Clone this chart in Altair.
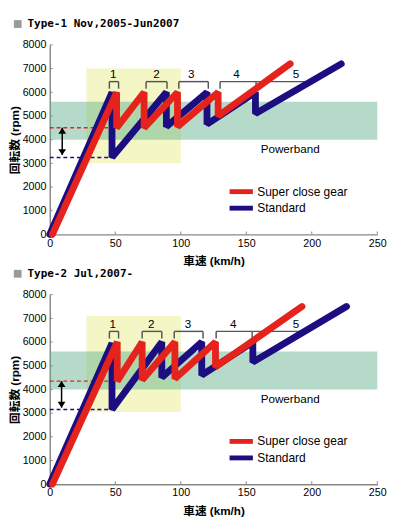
import altair as alt
import pandas as pd

# ---------------- data ----------------
SERIES = ["Super close gear", "Standard"]
SERIES_COLORS = ["#e5221c", "#1c0d80"]
X_TICKS = [0, 50, 100, 150, 200, 250]
Y_TICKS = [0, 1000, 2000, 3000, 4000, 5000, 6000, 7000, 8000]
GEAR_LABELS = ["1", "2", "3", "4", "5"]
BAND_TEXT = "Powerband"

# Type-1
t1_title = "Type-1 Nov,2005-Jun2007"
t1_std_speed = [0, 47.5, 47.5, 89, 89, 120, 120, 157, 157, 222.5]
t1_std_rpm = [0, 6000, 3250, 6000, 4550, 6000, 4650, 6000, 5100, 7200]
t1_sc_speed = [2, 51, 51, 72, 72, 97.5, 97.5, 128.5, 128.5, 183.5]
t1_sc_rpm = [0, 6000, 4500, 6000, 4500, 6000, 4550, 6000, 5000, 7200]
t1_zone_speed = [28, 100]
t1_zone_rpm = [3000, 7000]
t1_band_speed = [0, 250]
t1_band_rpm = [4000, 5600]
t1_br_from = [45.5, 73.5, 98.5, 130, 157.5]
t1_br_to = [52.5, 89.5, 121, 157.5, 199]
t1_br_label_speed = [48.5, 81.5, 108, 142.5, 188]
t1_br_rpm = [6450, 6150]
t1_label_rpm = 6750
t1_drop_sc = [51, 4500]
t1_drop_std = [47.5, 3250]
t1_arrow = [9.5, 4500, 3350]
t1_band_label = [183.5, 3600]

# Type-2
t2_title = "Type-2 Jul,2007-"
t2_std_speed = [0, 47.5, 47.5, 85.5, 85.5, 116, 116, 155, 155, 226.5]
t2_std_rpm = [0, 5950, 3150, 6000, 4500, 6000, 4600, 6000, 5150, 7500]
t2_sc_speed = [2, 51.5, 51.5, 70.5, 70.5, 95.5, 95.5, 126.5, 126.5, 192.5]
t2_sc_rpm = [0, 6000, 4350, 6000, 4400, 6000, 4450, 6000, 4950, 7500]
t2_zone_speed = [28, 100]
t2_zone_rpm = [3050, 7100]
t2_band_speed = [0, 250]
t2_band_rpm = [4000, 5600]
t2_br_from = [45.5, 70.5, 95, 127, 154.5]
t2_br_to = [52.5, 85.5, 117, 154.5, 196]
t2_br_label_speed = [48, 77.5, 105.5, 140, 188]
t2_br_rpm = [6450, 6150]
t2_label_rpm = 6750
t2_drop_sc = [51.5, 4350]
t2_drop_std = [47.5, 3150]
t2_arrow = [9, 4350, 3230]
t2_band_label = [183.5, 3600]

# ---------------- styling ----------------
W, H = 337, 195
LFONT = "Liberation Sans, Arial, Noto Sans CJK JP"
TFONT = "Liberation Sans, Noto Sans CJK JP"
RED, BLUE = SERIES_COLORS


def panel(title, std_speed, std_rpm, sc_speed, sc_rpm, zone_speed, zone_rpm,
          band_speed, band_rpm, br_from, br_to, br_label_speed, br_rpm, label_rpm,
          drop_sc, drop_std, arrow, band_label):
    xs = alt.Scale(domain=[0, 250], nice=False, zero=False)
    ys = alt.Scale(domain=[0, 8000], nice=False)
    ax = alt.Axis(values=X_TICKS, format="d", title="車速 (km/h)", grid=False, ticks=False,
                  tickSize=0, domainColor="#888888", domainWidth=1.5, labelFont=LFONT,
                  labelFontSize=11, labelColor="black", labelPadding=3, labelFlush=False,
                  titleFont=TFONT, titleFontWeight="bold", titleFontSize=12,
                  titleColor="black", titlePadding=8)
    ay = alt.Axis(values=Y_TICKS, format="d", title="回転数 (rpm)", grid=False, ticks=False,
                  tickSize=0, domainColor="#888888", domainWidth=1.5, labelFont=LFONT,
                  labelFontSize=11, labelColor="black", labelPadding=4, labelFlush=False,
                  titleFont=TFONT, titleFontWeight="bold", titleFontSize=12,
                  titleColor="black", titlePadding=1)

    def X(f):
        return alt.X(f, type="quantitative", scale=xs, axis=ax)

    def Y(f):
        return alt.Y(f, type="quantitative", scale=ys, axis=ay)

    zone = alt.Chart(pd.DataFrame({"x": [zone_speed[0]], "x2": [zone_speed[1]],
                                   "y": [zone_rpm[0]], "y2": [zone_rpm[1]]})).mark_rect(
        color="#f4f6c6").encode(x=X("x"), x2="x2", y=Y("y"), y2="y2")
    band = alt.Chart(pd.DataFrame({"x": [band_speed[0]], "x2": [band_speed[1]],
                                   "y": [band_rpm[0]], "y2": [band_rpm[1]]})).mark_rect(
        color="#5aae8a", opacity=0.45).encode(x=X("x"), x2="x2", y=Y("y"), y2="y2")

    segs = []
    n = len(br_from)
    for i in range(n):
        segs.append(dict(x=br_from[i], x2=br_to[i], y=br_rpm[0], y2=br_rpm[0]))
        if i < n - 1:
            segs.append(dict(x=br_from[i], x2=br_from[i], y=br_rpm[1], y2=br_rpm[0]))
            segs.append(dict(x=br_to[i], x2=br_to[i], y=br_rpm[1], y2=br_rpm[0]))
    brackets = alt.Chart(pd.DataFrame(segs)).mark_rule(color="#555555", strokeWidth=1.5).encode(
        x=X("x"), x2="x2", y=Y("y"), y2="y2")
    blabels = alt.Chart(pd.DataFrame({"x": br_label_speed, "y": [label_rpm] * n,
                                      "t": GEAR_LABELS})).mark_text(
        font=LFONT, fontSize=12, color="black", baseline="middle").encode(
        x=X("x"), y=Y("y"), text="t:N")
    bandtxt = alt.Chart(pd.DataFrame({"x": [band_label[0]], "y": [band_label[1]],
                                      "t": [BAND_TEXT]})).mark_text(
        font=LFONT, fontSize=12, color="black", baseline="middle").encode(
        x=X("x"), y=Y("y"), text="t:N")

    dash_sc = alt.Chart(pd.DataFrame({"x": [0], "x2": [drop_sc[0]], "y": [drop_sc[1]]})).mark_rule(
        color=RED, strokeDash=[4, 3], strokeWidth=1.5).encode(x=X("x"), x2="x2", y=Y("y"))
    dash_std = alt.Chart(pd.DataFrame({"x": [0], "x2": [drop_std[0]], "y": [drop_std[1]]})).mark_rule(
        color=BLUE, strokeDash=[4, 3], strokeWidth=1.5).encode(x=X("x"), x2="x2", y=Y("y"))

    adf = pd.DataFrame({"x": [arrow[0]], "y": [arrow[1]], "y2": [arrow[2]]})
    ashaft = alt.Chart(adf).mark_rule(color="black", strokeWidth=1.5).encode(
        x=X("x"), y=Y("y"), y2="y2")
    ahead_up = alt.Chart(adf).mark_point(shape="M0,0L-1,1.5L1,1.5Z", filled=True, size=64,
                                         color="black", opacity=1).encode(x=X("x"), y=Y("y"))
    ahead_dn = alt.Chart(adf).mark_point(shape="M0,0L-1,-1.5L1,-1.5Z", filled=True, size=64,
                                         color="black", opacity=1).encode(x=X("x"), y=Y("y2"))

    leg = alt.Legend(title=None, orient="none", legendX=190.5, legendY=144.5,
                     symbolType="M-3,0H3", symbolSize=64, symbolStrokeWidth=5, rowPadding=-12,
                     labelFont=LFONT, labelFontSize=12.3, labelColor="black",
                     labelOffset=10, padding=0)
    color = alt.Color("series:N", scale=alt.Scale(domain=SERIES, range=SERIES_COLORS), legend=leg)

    std_df = pd.DataFrame({"x": std_speed, "y": std_rpm, "i": list(range(len(std_speed))),
                           "series": SERIES[1]})
    sc_df = pd.DataFrame({"x": sc_speed, "y": sc_rpm, "i": list(range(len(sc_speed))),
                          "series": SERIES[0]})
    line_kw = dict(strokeWidth=7, strokeCap="round", strokeJoin="bevel")
    std_line = alt.Chart(std_df).mark_line(**line_kw).encode(
        x=X("x"), y=Y("y"), color=color, order=alt.Order("i:Q"))
    sc_line = alt.Chart(sc_df).mark_line(**line_kw).encode(
        x=X("x"), y=Y("y"), color=color, order=alt.Order("i:Q"))

    xt = alt.Chart(pd.DataFrame({"x": X_TICKS[1:]})).mark_rule(color="#888888", strokeWidth=1).encode(
        x=X("x"), y=alt.value(H), y2=alt.value(H - 3))
    yt = alt.Chart(pd.DataFrame({"y": Y_TICKS[1:]})).mark_rule(color="#888888", strokeWidth=1).encode(
        y=Y("y"), x=alt.value(0), x2=alt.value(3))

    # panel heading: grey square marker + heading text
    square = alt.Chart(pd.DataFrame({"k": [0]})).mark_square(
        color="#9a9a9a", size=64, opacity=1).encode(x=alt.value(-33), y=alt.value(-21.5))
    heading = alt.Chart(pd.DataFrame({"t": [title]})).mark_text(
        font="DejaVu Sans Mono", fontWeight="bold", fontSize=11.3, color="black",
        align="left", baseline="middle").encode(
        x=alt.value(-23), y=alt.value(-21.5), text="t:N")

    return alt.layer(zone, band, brackets, blabels, bandtxt, dash_sc, dash_std,
                     ashaft, ahead_up, ahead_dn, std_line, sc_line, xt, yt,
                     square, heading).properties(width=W, height=H)


p1 = panel(t1_title, t1_std_speed, t1_std_rpm, t1_sc_speed, t1_sc_rpm, t1_zone_speed, t1_zone_rpm,
           t1_band_speed, t1_band_rpm, t1_br_from, t1_br_to, t1_br_label_speed, t1_br_rpm,
           t1_label_rpm, t1_drop_sc, t1_drop_std, t1_arrow, t1_band_label)
p2 = panel(t2_title, t2_std_speed, t2_std_rpm, t2_sc_speed, t2_sc_rpm, t2_zone_speed, t2_zone_rpm,
           t2_band_speed, t2_band_rpm, t2_br_from, t2_br_to, t2_br_label_speed, t2_br_rpm,
           t2_label_rpm, t2_drop_sc, t2_drop_std, t2_arrow, t2_band_label)

chart = alt.vconcat(p1, p2, spacing=1).resolve_scale(color="independent").resolve_legend(
    color="independent").configure_view(stroke=None).properties(
    padding={"left": 0, "top": 2.5, "right": 0, "bottom": 0})

chart.save("out.html", embed_options={"renderer": "svg", "actions": False})
